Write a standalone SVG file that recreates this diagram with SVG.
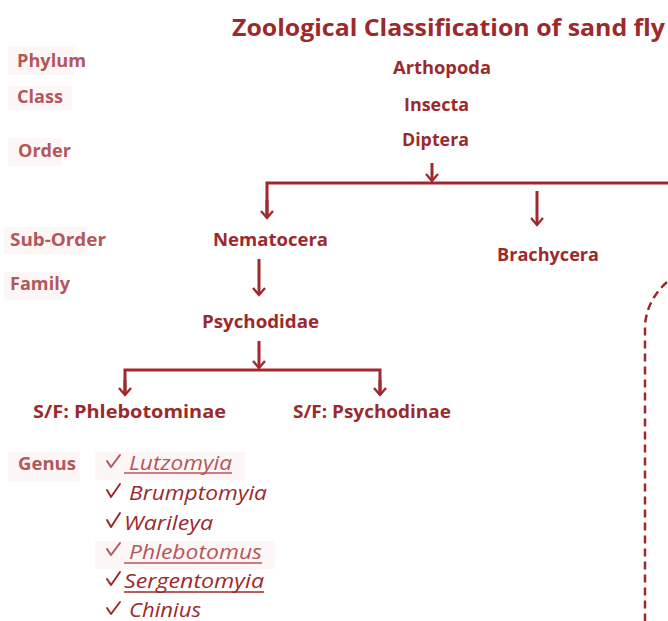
<svg xmlns="http://www.w3.org/2000/svg" width="668" height="621" viewBox="0 0 668 621">
<style>
.t{font-family:"Open Sans","Noto Sans",sans-serif;font-weight:bold;fill:#9c2a2c;font-size:17px}
.lab{font-family:"Open Sans","Noto Sans",sans-serif;font-weight:bold;fill:#b4575b;font-size:17px}
.g{font-family:"Open Sans","Noto Sans",sans-serif;font-style:italic;fill:#9c2a2c;font-size:20px}
.gl{fill:#b4575b}
.ln{fill:none;stroke:#a1292d;stroke-width:3}
.ck{fill:none;stroke:#9c2a2c;stroke-width:2;stroke-linecap:round;stroke-linejoin:round}
.bg{fill:#fdf6f6}
</style>
<defs>
<marker id="ah" viewBox="0 0 10 14" refX="8" refY="7" markerWidth="10" markerHeight="14" markerUnits="userSpaceOnUse" orient="auto">
<polyline points="1,1 8,7 1,13" fill="none" stroke="#a1292d" stroke-width="2.4"/>
</marker>
</defs>
<rect width="668" height="621" fill="#fff"/>
<text x="232" y="36" class="t" style="font-size:24px" textLength="433" lengthAdjust="spacingAndGlyphs">Zoological Classification  of sand fly</text>

<g id="labels">
<rect class="bg" x="8" y="46" width="66" height="29"/>
<text class="lab" x="17" y="67" textLength="69" lengthAdjust="spacingAndGlyphs">Phylum</text>
<rect class="bg" x="8" y="86" width="64" height="24"/>
<text class="lab" x="17" y="103" textLength="46" lengthAdjust="spacingAndGlyphs">Class</text>
<rect class="bg" x="8" y="138" width="54" height="28"/>
<text class="lab" x="18" y="157" textLength="53" lengthAdjust="spacingAndGlyphs">Order</text>
<rect class="bg" x="4" y="227" width="82" height="27"/>
<text class="lab" x="10" y="246" textLength="96" lengthAdjust="spacingAndGlyphs">Sub-Order</text>
<rect class="bg" x="4" y="272" width="58" height="28"/>
<text class="lab" x="10" y="290" textLength="60" lengthAdjust="spacingAndGlyphs">Family</text>
<rect class="bg" x="8" y="452" width="72" height="30"/>
<text class="lab" x="18" y="470" textLength="58" lengthAdjust="spacingAndGlyphs">Genus</text>
</g>

<g id="arthopoda"><text class="t" x="393" y="74" textLength="98" lengthAdjust="spacingAndGlyphs">Arthopoda</text></g>
<g id="insecta"><text class="t" x="404" y="111" textLength="65" lengthAdjust="spacingAndGlyphs">Insecta</text></g>
<g id="diptera"><text class="t" x="402" y="146" textLength="67" lengthAdjust="spacingAndGlyphs">Diptera</text></g>
<g id="nematocera"><text class="t" x="213" y="246" textLength="115" lengthAdjust="spacingAndGlyphs">Nematocera</text></g>
<g id="brachycera"><text class="t" x="497" y="261" textLength="102" lengthAdjust="spacingAndGlyphs">Brachycera</text></g>
<g id="psychodidae"><text class="t" x="202" y="328" textLength="117" lengthAdjust="spacingAndGlyphs">Psychodidae</text></g>
<g id="phlebotominae"><text class="t" x="33" y="418" textLength="193" lengthAdjust="spacingAndGlyphs">S/F: Phlebotominae</text></g>
<g id="psychodinae"><text class="t" x="293" y="418" textLength="158" lengthAdjust="spacingAndGlyphs">S/F: Psychodinae</text></g>

<g id="genera">
<rect class="bg" x="95" y="452" width="150" height="28"/>
<polyline class="ck" style="stroke:#b4575b" points="107,461 111,467 120,455"/>
<text class="g gl" x="129" y="470" textLength="103" lengthAdjust="spacingAndGlyphs">Lutzomyia</text>
<line x1="124" y1="473" x2="232" y2="473" stroke="#b4575b" stroke-width="1.5"/>
<polyline class="ck" points="107,490 111,497 120,484"/>
<text class="g" x="129" y="500" textLength="138" lengthAdjust="spacingAndGlyphs">Brumptomyia</text>
<polyline class="ck" points="107,520 111,527 120,513"/>
<text class="g" x="124" y="530" textLength="89" lengthAdjust="spacingAndGlyphs">Warileya</text>
<rect class="bg" x="95" y="541" width="180" height="28"/>
<polyline class="ck" style="stroke:#b4575b" points="107,549 111,555 120,543"/>
<text class="g gl" x="129" y="559" textLength="133" lengthAdjust="spacingAndGlyphs">Phlebotomus</text>
<line x1="124" y1="563" x2="262" y2="563" stroke="#b4575b" stroke-width="1.5"/>
<polyline class="ck" points="107,579 111,585 120,572"/>
<text class="g" x="124" y="588" textLength="140" lengthAdjust="spacingAndGlyphs">Sergentomyia</text>
<line x1="124" y1="592" x2="264" y2="592" stroke="#9c2a2c" stroke-width="1.5"/>
<polyline class="ck" points="107,608 111,614 120,602"/>
<text class="g" x="129" y="617" textLength="72" lengthAdjust="spacingAndGlyphs">Chinius</text>
</g>

<g id="connectors">
<line class="ln" x1="432" y1="163" x2="432" y2="181" marker-end="url(#ah)"/>
<polyline class="ln" points="267,217 267,183 668,183"/>
<line class="ln" x1="267" y1="200" x2="267" y2="218" marker-end="url(#ah)"/>
<line class="ln" x1="537" y1="191" x2="537" y2="225" marker-end="url(#ah)"/>
<line class="ln" x1="259" y1="259" x2="259" y2="295" marker-end="url(#ah)"/>
<line class="ln" x1="259" y1="341" x2="259" y2="368" marker-end="url(#ah)"/>
<polyline class="ln" points="125,394 125,370 380,370 380,394"/>
<line class="ln" x1="125" y1="380" x2="125" y2="395" marker-end="url(#ah)"/>
<line class="ln" x1="380" y1="380" x2="380" y2="395" marker-end="url(#ah)"/>
<path d="M667,282 Q647,300 645,325 L645,621" fill="none" stroke="#9c2a2c" stroke-width="2.5" stroke-dasharray="8,5"/>
</g>
</svg>
